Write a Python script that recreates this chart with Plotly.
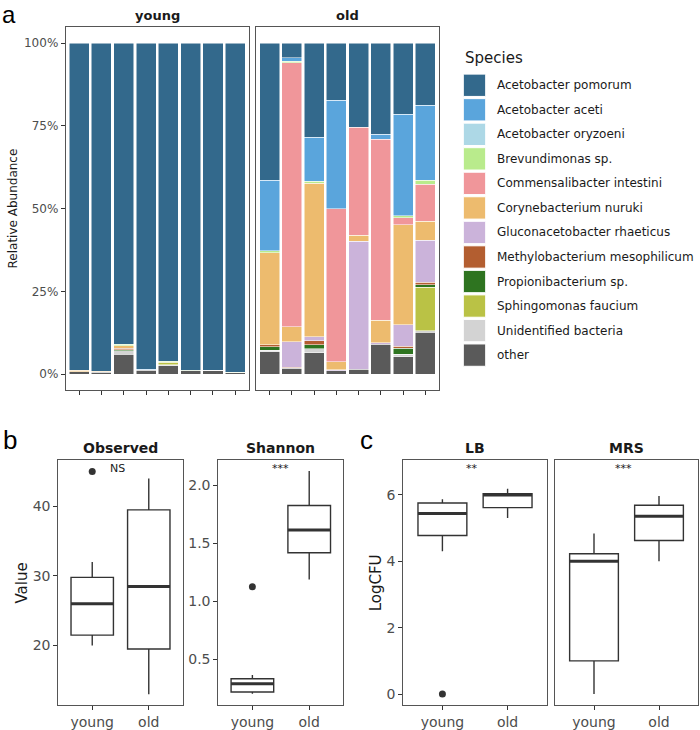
import plotly.graph_objects as go

W, H = 700, 730

# ---------------- Panel a data (relative abundance, %) ----------------
young_samples = ["Y1", "Y2", "Y3", "Y4", "Y5", "Y6", "Y7", "Y8"]
old_samples = ["O1", "O2", "O3", "O4", "O5", "O6", "O7", "O8"]

species = ["Acetobacter pomorum", "Acetobacter aceti", "Acetobacter oryzoeni",
           "Brevundimonas sp.", "Commensalibacter intestini", "Corynebacterium nuruki",
           "Gluconacetobacter rhaeticus", "Methylobacterium mesophilicum",
           "Propionibacterium sp.", "Sphingomonas faucium", "Unidentified bacteria", "other"]
species_colors = ["#33698C", "#5AA5DC", "#ADD8E6", "#B9EB8C", "#F0969A", "#EDBB6E",
                  "#CBB3DA", "#B35E30", "#2E7420", "#BAC245", "#D3D3D3", "#5A5A5A"]

# values: 8 young samples followed by 8 old samples
pomorum = [98.9, 99.2, 91.0, 98.6, 96.1, 98.8, 98.8, 99.4, 41.5, 4.4, 28.5, 17.3, 25.5, 27.5, 21.5, 18.8]
aceti = [0, 0, 0, 0.2, 0, 0, 0, 0, 21.3, 1.1, 13.3, 32.8, 0, 1.6, 30.6, 22.7]
oryzoeni = [0, 0, 0, 0, 0, 0, 0, 0, 0, 0, 0, 0, 0, 0, 0, 0]
brevundimonas = [0, 0, 0.4, 0, 0.4, 0, 0, 0.2, 0.5, 0.4, 0.6, 0, 0, 0, 0.6, 1.2]
commensalibacter = [0, 0, 0, 0, 0, 0, 0, 0, 0, 79.8, 0, 46.2, 32.5, 54.6, 2.2, 11.2]
corynebacterium = [0.4, 0.3, 0.8, 0, 0, 0, 0, 0, 27.9, 4.5, 46.4, 2.4, 1.8, 6.8, 30.2, 5.7]
gluconacetobacter = [0, 0, 0, 0, 0, 0, 0, 0, 0, 7.7, 1.1, 0.3, 38.8, 0.5, 6.5, 12.7]
methylobacterium = [0, 0, 0.5, 0, 0, 0, 0, 0, 0.6, 0.3, 1.2, 0, 0, 0, 0.6, 0.7]
propionibacterium = [0, 0, 0.3, 0, 0, 0.2, 0, 0, 1.0, 0, 1.2, 0, 0, 0, 1.8, 0.7]
sphingomonas = [0, 0, 0, 0, 0.7, 0, 0, 0, 0, 0, 0, 0, 0, 0, 0, 13.2]
unidentified = [0, 0, 1.0, 0, 0.3, 0, 0.2, 0, 0.4, 0, 1.2, 0, 0, 0, 0.7, 0.5]
other = [0.7, 0.5, 6.0, 1.2, 2.5, 1.0, 1.0, 0.4, 6.8, 1.8, 6.5, 1.0, 1.4, 9.0, 5.3, 12.6]

species_values = [pomorum, aceti, oryzoeni, brevundimonas, commensalibacter, corynebacterium,
                  gluconacetobacter, methylobacterium, propionibacterium, sphingomonas,
                  unidentified, other]
abund_ticks = [0, 25, 50, 75, 100]

# ---------------- Panel b / c data (box statistics) ----------------
groups = ["young", "old"]
obs_lower = [20, 13]
obs_q1 = [21.5, 19.5]
obs_median = [26.0, 28.5]
obs_q3 = [29.8, 39.5]
obs_upper = [32, 44]
obs_outliers = [45]
obs_outlier_group = [0]

sha_lower = [0.205, 1.19]
sha_q1 = [0.219, 1.42]
sha_median = [0.29, 1.616]
sha_q3 = [0.334, 1.828]
sha_upper = [0.366, 2.124]
sha_outliers = [1.127]
sha_outlier_group = [0]

lb_lower = [4.30, 5.30]
lb_q1 = [4.77, 5.61]
lb_median = [5.43, 5.99]
lb_q3 = [5.75, 6.03]
lb_upper = [5.86, 6.18]
lb_outliers = [0]
lb_outlier_group = [0]

mrs_lower = [0, 4.0]
mrs_q1 = [1.0, 4.62]
mrs_median = [4.0, 5.35]
mrs_q3 = [4.22, 5.68]
mrs_upper = [4.83, 5.96]
mrs_outliers = []
mrs_outlier_group = []

FONT = "DejaVu Sans"
TICK_COL = "#4D4D4D"
LINE_COL = "#555555"
BOX_COL = "#333333"


def px_x(p):
    return p / W


def px_y(p):
    return 1 - p / H


fig = go.Figure()

# ---------------- stacked bars ----------------
for name, col, vals in reversed(list(zip(species, species_colors, species_values))):
    yv = [v if v > 0 else None for v in vals[:8]]
    ov = [v if v > 0 else None for v in vals[8:]]
    fig.add_trace(go.Bar(x=young_samples, y=yv, marker=dict(color=col, line=dict(color="rgba(255,255,255,0.85)", width=0.6)),
                         xaxis="x", yaxis="y", showlegend=False, name=name, hoverinfo="skip"))
    fig.add_trace(go.Bar(x=old_samples, y=ov, marker=dict(color=col, line=dict(color="rgba(255,255,255,0.85)", width=0.6)),
                         xaxis="x2", yaxis="y2", showlegend=False, name=name, hoverinfo="skip"))

# ---------------- box plots ----------------
def add_box(xa, ya, lower, q1, med, q3, upper, outl, outl_g):
    pos = [i + 1 for i in range(len(groups))]
    fig.add_trace(go.Box(x=pos, q1=q1, median=med, q3=q3, lowerfence=lower, upperfence=upper,
                         width=0.75, whiskerwidth=0, fillcolor="white", boxpoints=False,
                         line=dict(color=BOX_COL, width=1.4), xaxis=xa, yaxis=ya,
                         showlegend=False, hoverinfo="skip"))
    mx, my = [], []
    for p, m in zip(pos, med):
        mx += [p - 0.375, p + 0.375, None]
        my += [m, m, None]
    fig.add_trace(go.Scatter(x=mx, y=my, mode="lines", line=dict(color=BOX_COL, width=3),
                             xaxis=xa, yaxis=ya, showlegend=False, hoverinfo="skip"))
    if outl:
        fig.add_trace(go.Scatter(x=[pos[g] for g in outl_g], y=outl, mode="markers",
                                 marker=dict(color=BOX_COL, size=7), xaxis=xa, yaxis=ya,
                                 showlegend=False, hoverinfo="skip"))


add_box("x3", "y3", obs_lower, obs_q1, obs_median, obs_q3, obs_upper, obs_outliers, obs_outlier_group)
add_box("x4", "y4", sha_lower, sha_q1, sha_median, sha_q3, sha_upper, sha_outliers, sha_outlier_group)
add_box("x5", "y5", lb_lower, lb_q1, lb_median, lb_q3, lb_upper, lb_outliers, lb_outlier_group)
add_box("x6", "y6", mrs_lower, mrs_q1, mrs_median, mrs_q3, mrs_upper, mrs_outliers, mrs_outlier_group)

# ---------------- axes ----------------
common = dict(showline=True, mirror=True, linecolor=LINE_COL, linewidth=1, showgrid=False,
              zeroline=False, ticks="outside", ticklen=4, tickcolor="#333333", tickwidth=1)
common_noticks = {k: v for k, v in common.items() if k != "ticks"}

ya_dom = [px_y(391), px_y(27.3)]
yb_dom = [px_y(707.3), px_y(461.7)]

layout_axes = dict(
    xaxis=dict(domain=[px_x(65.7), px_x(248.7)], range=[-0.6, 7.6], showticklabels=False, anchor="y", **common),
    xaxis2=dict(domain=[px_x(256.3), px_x(438.7)], range=[-0.6, 7.6], showticklabels=False, anchor="y2", **common),
    yaxis=dict(domain=ya_dom, range=[-4.8, 104.8], tickmode="array", tickvals=abund_ticks,
               ticktext=["%d%%" % t for t in abund_ticks],
               tickfont=dict(size=12, color=TICK_COL, family=FONT), anchor="x",
               title=dict(text="Relative Abundance", font=dict(size=12, color="#1a1a1a", family=FONT), standoff=3), **common),
    yaxis2=dict(domain=ya_dom, range=[-4.8, 104.8], showticklabels=False, anchor="x2", ticks="", **common_noticks),
)

box_x_common = dict(range=[0.4, 2.6], tickvals=[1, 2], ticktext=groups,
                    tickfont=dict(size=14, color=TICK_COL, family=FONT), **common)
ytf = dict(size=14, color=TICK_COL, family=FONT)
layout_axes.update(
    xaxis3=dict(domain=[px_x(58.3), px_x(182.7)], anchor="y3", **box_x_common),
    xaxis4=dict(domain=[px_x(218.3), px_x(343.3)], anchor="y4", **box_x_common),
    xaxis5=dict(domain=[px_x(403.3), px_x(546.7)], anchor="y5", **box_x_common),
    xaxis6=dict(domain=[px_x(555), px_x(698)], anchor="y6", **box_x_common),
    yaxis3=dict(domain=yb_dom, range=[11.4, 46.6], tickvals=[20, 30, 40], tickfont=ytf, anchor="x3",
                title=dict(text="Value", font=dict(size=15, color="#1a1a1a", family=FONT), standoff=1), **common),
    yaxis4=dict(domain=yb_dom, range=[0.104, 2.216], tickvals=[0.5, 1.0, 1.5, 2.0], tickformat=".1f",
                tickfont=ytf, anchor="x4", **common),
    yaxis5=dict(domain=yb_dom, range=[-0.34, 7.03], tickvals=[0, 2, 4, 6], tickfont=ytf, anchor="x5",
                title=dict(text="LogCFU", font=dict(size=15, color="#1a1a1a", family=FONT), standoff=1), **common),
    yaxis6=dict(domain=yb_dom, range=[-0.34, 7.03], showticklabels=False, anchor="x6", ticks="", **common_noticks),
)

annotations = []
# strip titles
for text, x0, x1, y, size in [("young", 65.7, 248.7, 16, 13), ("old", 256.3, 438.7, 16, 13),
                               ("Observed", 58.3, 182.7, 449, 14), ("Shannon", 218.3, 343.3, 449, 14),
                               ("LB", 403.3, 546.7, 449, 14), ("MRS", 555, 698, 449, 14)]:
    annotations.append(dict(text="<b>%s</b>" % text, x=px_x((x0 + x1) / 2), y=px_y(y), xref="paper", yref="paper",
                            showarrow=False, xanchor="center", yanchor="middle",
                            font=dict(size=size, color="#1a1a1a", family=FONT)))
# panel letters
annotations.append(dict(text="a", x=px_x(1), y=1.0, xref="paper", yref="paper", showarrow=False,
                        xanchor="left", yanchor="top", font=dict(size=24, color="black", family="Liberation Sans"),
                        borderpad=0))
for text, x, y in [("b", 1, 441), ("c", 358, 441)]:
    annotations.append(dict(text=text, x=px_x(x), y=px_y(y), xref="paper", yref="paper", showarrow=False,
                            xanchor="left", yanchor="middle", font=dict(size=26, color="black", family="Liberation Sans")))
# significance labels
for text, xa, ya, x, y in [("NS", "x3", "y3", 1.45, 45.4), ("***", "x4", "y4", 1.5, 2.15),
                           ("**", "x5", "y5", 1.45, 6.78), ("***", "x6", "y6", 1.45, 6.78)]:
    annotations.append(dict(text=text, x=x, y=y, xref=xa, yref=ya, showarrow=False,
                            xanchor="center", yanchor="middle", font=dict(size=11, color="#1a1a1a", family=FONT)))

# custom legend
shapes = []
annotations.append(dict(text="Species", x=px_x(462.5), y=px_y(58.5), xref="paper", yref="paper", showarrow=False,
                        xanchor="left", yanchor="middle", font=dict(size=15, color="#1a1a1a", family=FONT)))
for i, (name, col) in enumerate(zip(species, species_colors)):
    top = 74.3 + i * 24.6
    shapes.append(dict(type="rect", xref="paper", yref="paper", x0=px_x(463.3), x1=px_x(485.7),
                       y0=px_y(top + 22.4), y1=px_y(top), fillcolor=col, line=dict(color="white", width=1)))
    annotations.append(dict(text=name, x=px_x(495), y=px_y(top + 11.2), xref="paper", yref="paper",
                            showarrow=False, xanchor="left", yanchor="middle",
                            font=dict(size=12, color="#1a1a1a", family=FONT)))

fig.update_layout(
    width=W, height=H, margin=dict(l=0, r=0, t=0, b=0),
    paper_bgcolor="white", plot_bgcolor="white",
    barmode="stack", bargap=0.1,
    font=dict(family=FONT),
    annotations=annotations, shapes=shapes,
    **layout_axes,
)

fig.write_html("out.html")
